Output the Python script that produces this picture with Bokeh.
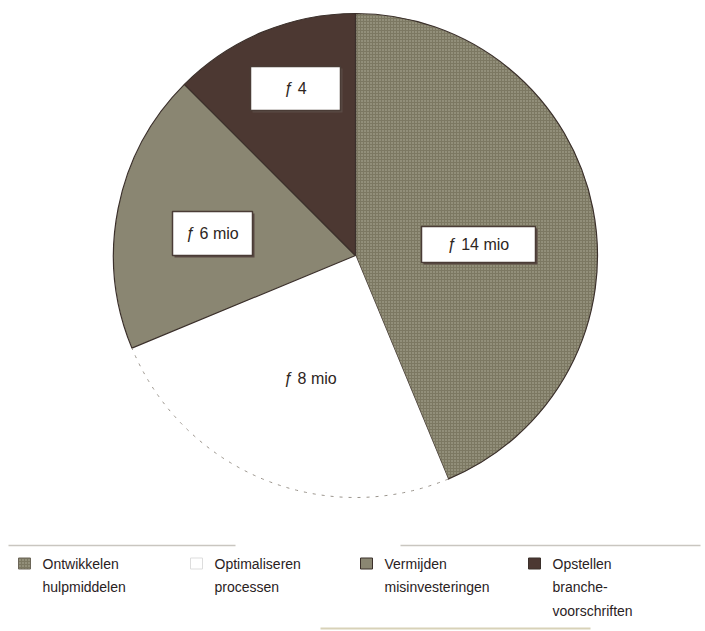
import numpy as np
from bokeh.plotting import figure
from bokeh.models import Range1d, ColumnDataSource
from bokeh.core.properties import value
from bokeh.embed import file_html
from bokeh.resources import INLINE

# Budget split (guilders, millions)
categories = ["Ontwikkelen\nhulpmiddelen", "Optimaliseren\nprocessen",
              "Vermijden\nmisinvesteringen", "Opstellen\nbranche-\nvoorschriften"]
amounts = [14, 8, 6, 4]
label_units = [" mio", " mio", " mio", ""]
fills = ["#7c7862", "#ffffff", "#8a8672", "#4c3832"]
hatches = ["dot", "blank", "blank", "blank"]

W, H = 705, 631
FONT = "Liberation Sans"

p = figure(width=W, height=H, x_range=Range1d(0, W), y_range=Range1d(0, H),
           output_backend="svg", toolbar_location=None, min_border=0)
p.axis.visible = False
p.grid.visible = False
p.outline_line_color = None
p.background_fill_color = "#ffffff"
p.border_fill_color = "#ffffff"

cx, cy, r = 355, H - 255, 242

vals = np.array(amounts, dtype=float)
frac = vals / vals.sum()
ends = np.cumsum(frac) * 2 * np.pi
starts = ends - frac * 2 * np.pi
start_ang = np.pi / 2 - starts
end_ang = np.pi / 2 - ends

src = ColumnDataSource(dict(start=start_ang, end=end_ang, fill=fills,
                            hatch=hatches,
                            line=["#3b302b", None, "#3b302b", "#3b302b"]))
p.wedge(x=cx, y=cy, radius=r, start_angle="start", end_angle="end",
        direction="clock", fill_color="fill", line_color="line", line_width=1.2,
        hatch_pattern="hatch", hatch_color="#b4b09c", hatch_scale=3,
        hatch_weight=1.3, source=src)

# faint dashed rim of the white slice
p.arc(x=cx, y=cy, radius=r, start_angle=start_ang[1], end_angle=end_ang[1],
      direction="clock", line_color="#9a948c", line_width=1, line_dash="3 6")

# value labels
labels = [f"\u0192 {int(v)}{u}" for v, u in zip(amounts, label_units)]
lab_x = [478, 310, 212, 295]
lab_y = [H - 244, H - 378, H - 233, H - 88]
boxed = [True, False, True, True]
box_w = [114, 0, 80, 90]
box_h = [36, 0, 44, 44]
bx = [x for x, b in zip(lab_x, boxed) if b]
by = [y for y, b in zip(lab_y, boxed) if b]
bw = [w for w, b in zip(box_w, boxed) if b]
bh = [h for h, b in zip(box_h, boxed) if b]
p.rect(x=[x + 2 for x in bx], y=[y - 2 for y in by], width=bw, height=bh,
       fill_color="#5a4a44", line_color=None)
p.rect(x=bx, y=by, width=bw, height=bh, fill_color="#ffffff",
       line_color="#4a3c36", line_width=1.5)
p.text(x=lab_x, y=lab_y, text=labels, text_align="center",
       text_baseline="middle", text_font=value(FONT), text_font_size="16px",
       text_color="#2e2622")

# separator lines
p.segment(x0=[8, 400], y0=[H - 545, H - 545], x1=[235, 700], y1=[H - 545, H - 545],
          line_color="#c9c6c0", line_width=1.5)
p.segment(x0=[320], y0=[H - 628], x1=[590], y1=[H - 628],
          line_color="#d8d2b8", line_width=2)

# legend
leg_x = [18, 190, 360, 528]
leg_y = H - 563
p.rect(x=[x + 6 for x in leg_x], y=leg_y, width=12, height=11,
       fill_color=fills, line_color=["#6c6658", "#dddddd", "#3b302b", "#3b302b"],
       hatch_pattern=hatches, hatch_color="#b4b09c", hatch_scale=3,
       hatch_weight=1.3)
for x, name in zip(leg_x, categories):
    for i, line in enumerate(name.split("\n")):
        p.text(x=[x + 24], y=[leg_y - i * 23.5], text=[line],
               text_align="left", text_baseline="middle",
               text_font=value(FONT), text_font_size="14px",
               text_color="#2a221e")

open("out.html", "w").write(file_html(p, INLINE))
